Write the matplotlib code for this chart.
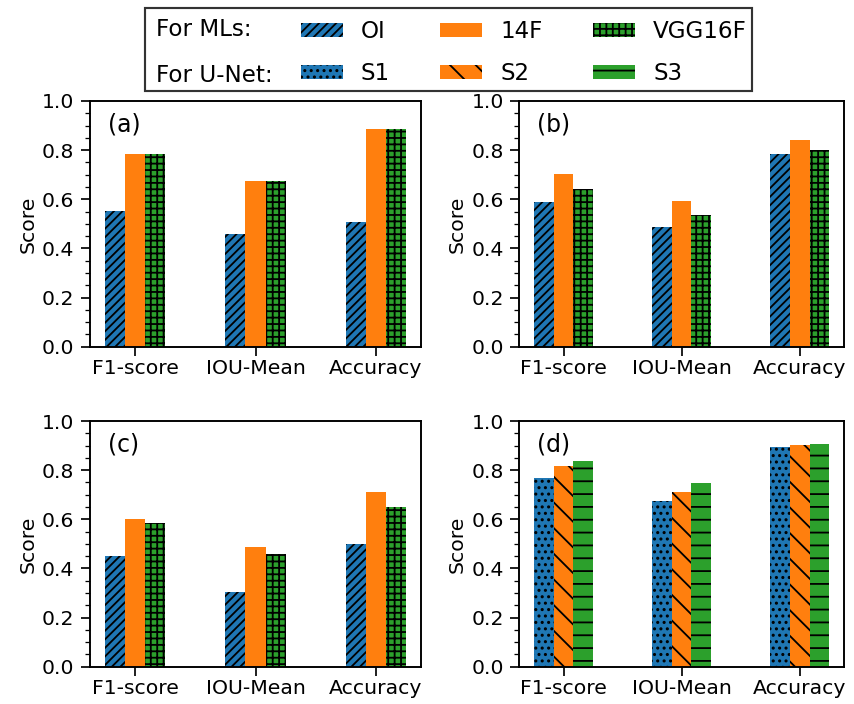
import numpy as np
import matplotlib
matplotlib.use('Agg')
import matplotlib.pyplot as plt
import matplotlib.patches as mpatches
from matplotlib.ticker import AutoMinorLocator

# Metric names on the x axis
categories = ['F1-score', 'IOU-Mean', 'Accuracy']

# Panel (a)-(c): ML models with three feature sets
a_oi = [0.554, 0.459, 0.509]
a_14f = [0.783, 0.673, 0.885]
a_vgg = [0.783, 0.673, 0.885]

b_oi = [0.589, 0.487, 0.784]
b_14f = [0.702, 0.592, 0.841]
b_vgg = [0.640, 0.535, 0.800]

c_oi = [0.450, 0.302, 0.501]
c_14f = [0.602, 0.488, 0.713]
c_vgg = [0.583, 0.457, 0.652]

# Panel (d): U-Net settings
d_s1 = [0.768, 0.673, 0.894]
d_s2 = [0.818, 0.713, 0.902]
d_s3 = [0.838, 0.748, 0.908]

ml_labels = ['OI', '14F', 'VGG16F']
unet_labels = ['S1', 'S2', 'S3']
panel_names = ['(a)', '(b)', '(c)', '(d)']

colors = ['tab:blue', 'tab:orange', 'tab:green']
ml_hatches = ['///', '', '++']
unet_hatches = ['..', '\\', '-']

plt.rcParams['hatch.linewidth'] = 1.7
plt.rcParams['font.size'] = 22
plt.rcParams['xtick.labelsize'] = 19
plt.rcParams['ytick.labelsize'] = 19
plt.rcParams['axes.labelsize'] = 19
plt.rcParams['axes.linewidth'] = 1.8
plt.rcParams['xtick.major.size'] = 8
plt.rcParams['ytick.major.size'] = 8
plt.rcParams['ytick.minor.size'] = 5
plt.rcParams['xtick.major.width'] = 1.6
plt.rcParams['ytick.major.width'] = 1.6
plt.rcParams['ytick.minor.width'] = 1.2
plt.rcParams['ytick.major.pad'] = 6.5

W, H, DPI = 854, 704, 77
fig = plt.figure(figsize=(W / DPI, H / DPI), dpi=DPI)

# axes boxes in pixels: left, right, top, bottom
boxes = [(90, 421, 101, 346.7), (519.3, 844, 101, 346.7),
         (90, 421, 421, 666.7), (519.3, 844, 421, 666.7)]
panels = [(a_oi, a_14f, a_vgg), (b_oi, b_14f, b_vgg),
          (c_oi, c_14f, c_vgg), (d_s1, d_s2, d_s3)]

x = np.arange(len(categories))
width = 1 / 6

for i, (box, series) in enumerate(zip(boxes, panels)):
    l, r, t, b = box
    ax = fig.add_axes([l / W, 1 - b / H, (r - l) / W, (b - t) / H])
    hatches = unet_hatches if i == 3 else ml_hatches
    for j, vals in enumerate(series):
        ax.bar(x + (j - 1) * width, vals, width, color=colors[j],
               hatch=hatches[j], edgecolor='black', linewidth=0)
    ax.set_ylim(0, 1.0)
    ax.set_yticks(np.arange(0, 1.01, 0.2))
    ax.yaxis.set_minor_locator(AutoMinorLocator())
    ax.set_xticks(x)
    ax.set_xticklabels(categories)
    ax.set_ylabel('Score')
    ax.text(0.055, 0.905, panel_names[i], transform=ax.transAxes,
            va='center', ha='left')

# legend: framed box with two header labels and six patch entries
handles = []
labels = []
for j in range(3):
    handles.append(mpatches.Patch(facecolor=colors[j], hatch=ml_hatches[j],
                                  edgecolor='black', linewidth=0))
    labels.append(ml_labels[j])
    handles.append(mpatches.Patch(facecolor=colors[j], hatch=unet_hatches[j],
                                  edgecolor='black', linewidth=0))
    labels.append(unet_labels[j])

frame = mpatches.Rectangle((144.7 / W, 1 - 90.5 / H), (752 - 144.7) / W, (90.5 - 8) / H,
                           transform=fig.transFigure, facecolor='white',
                           edgecolor='#333333', linewidth=2.0)
fig.patches.append(frame)

fig.legend(handles, labels, ncol=3, loc='center left',
           bbox_to_anchor=(300.5 / W, 1 - 52.9 / H), frameon=False,
           borderpad=0, borderaxespad=0, handlelength=1.83, handleheight=0.57,
           handletextpad=0.78, columnspacing=2.2, labelspacing=0.82,
           fontsize=21.5)
fig.text(156 / W, 1 - 30 / H, 'For MLs:', va='center', fontsize=21.5)
fig.text(156 / W, 1 - 75.7 / H, 'For U-Net:', va='center', fontsize=21.5)

fig.savefig('out.png', dpi=DPI)
